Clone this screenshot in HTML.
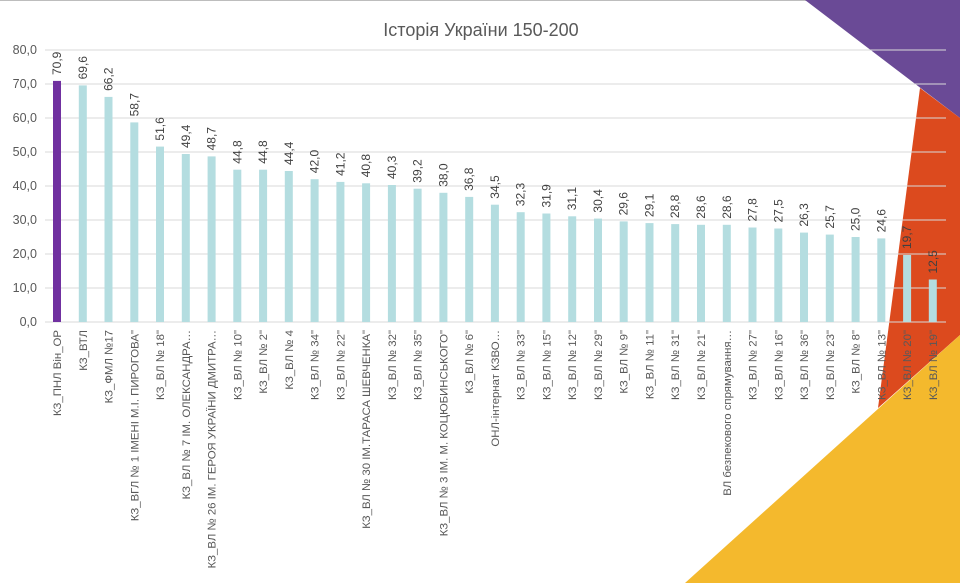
<!DOCTYPE html>
<html><head><meta charset="utf-8"><style>
html,body{margin:0;padding:0;background:#fff;}
svg{display:block;font-family:"Liberation Sans",sans-serif;}
.b{fill:#b4dde0}
.v{font-size:12px;fill:#404040}
.l{font-size:11.4px;fill:#595959;text-anchor:end}
</style></head><body>
<svg width="960" height="583" viewBox="0 0 960 583" xmlns="http://www.w3.org/2000/svg">
<rect width="960" height="583" fill="#fff"/>
<line x1="0" y1="0.5" x2="960" y2="0.5" stroke="#bdbdbd" stroke-width="1"/>
<polygon points="805,0 960,0 960,118" fill="#6a4a96"/>
<polygon points="920,88 960,118 960,335 878,408" fill="#dc4a1e"/>
<polygon points="685,583 960,335 960,583" fill="#f4b92d"/>
<text x="481" y="36" text-anchor="middle" font-size="18" fill="#595959">Історія України 150-200</text>
<g stroke="#d9d9d9" stroke-width="1">
<line x1="45" y1="50" x2="946" y2="50"/><line x1="45" y1="84" x2="946" y2="84"/>
<line x1="45" y1="118" x2="946" y2="118"/><line x1="45" y1="152" x2="946" y2="152"/>
<line x1="45" y1="186" x2="946" y2="186"/><line x1="45" y1="220" x2="946" y2="220"/>
<line x1="45" y1="254" x2="946" y2="254"/><line x1="45" y1="288" x2="946" y2="288"/>
<line x1="45" y1="322" x2="946" y2="322"/>
</g>
<g font-size="12.5" fill="#595959" text-anchor="end">
<text x="37" y="54">80,0</text><text x="37" y="88">70,0</text><text x="37" y="122">60,0</text>
<text x="37" y="156">50,0</text><text x="37" y="190">40,0</text><text x="37" y="224">30,0</text>
<text x="37" y="258">20,0</text><text x="37" y="292">10,0</text><text x="37" y="326">0,0</text>
</g>
<rect x="53" y="80.9" width="8" height="241.1" fill="#7030a0"/>
<rect class="b" x="78.8" y="85.4" width="8" height="236.6"/>
<rect class="b" x="104.5" y="96.9" width="8" height="225.1"/>
<rect class="b" x="130.3" y="122.4" width="8" height="199.6"/>
<rect class="b" x="156" y="146.6" width="8" height="175.4"/>
<rect class="b" x="181.8" y="154" width="8" height="168"/>
<rect class="b" x="207.6" y="156.4" width="8" height="165.6"/>
<rect class="b" x="233.3" y="169.7" width="8" height="152.3"/>
<rect class="b" x="259.1" y="169.7" width="8" height="152.3"/>
<rect class="b" x="284.8" y="171" width="8" height="151"/>
<rect class="b" x="310.6" y="179.2" width="8" height="142.8"/>
<rect class="b" x="336.4" y="181.9" width="8" height="140.1"/>
<rect class="b" x="362.1" y="183.3" width="8" height="138.7"/>
<rect class="b" x="387.9" y="185" width="8" height="137"/>
<rect class="b" x="413.6" y="188.7" width="8" height="133.3"/>
<rect class="b" x="439.4" y="192.8" width="8" height="129.2"/>
<rect class="b" x="465.2" y="196.9" width="8" height="125.1"/>
<rect class="b" x="490.9" y="204.7" width="8" height="117.3"/>
<rect class="b" x="516.7" y="212.2" width="8" height="109.8"/>
<rect class="b" x="542.4" y="213.5" width="8" height="108.5"/>
<rect class="b" x="568.2" y="216.3" width="8" height="105.7"/>
<rect class="b" x="594" y="218.6" width="8" height="103.4"/>
<rect class="b" x="619.7" y="221.4" width="8" height="100.6"/>
<rect class="b" x="645.5" y="223.1" width="8" height="98.9"/>
<rect class="b" x="671.2" y="224.1" width="8" height="97.9"/>
<rect class="b" x="697" y="224.8" width="8" height="97.2"/>
<rect class="b" x="722.8" y="224.8" width="8" height="97.2"/>
<rect class="b" x="748.5" y="227.5" width="8" height="94.5"/>
<rect class="b" x="774.3" y="228.5" width="8" height="93.5"/>
<rect class="b" x="800" y="232.6" width="8" height="89.4"/>
<rect class="b" x="825.8" y="234.6" width="8" height="87.4"/>
<rect class="b" x="851.6" y="237" width="8" height="85"/>
<rect class="b" x="877.3" y="238.4" width="8" height="83.6"/>
<rect class="b" x="903.1" y="255" width="8" height="67"/>
<rect class="b" x="928.8" y="279.5" width="8" height="42.5"/>
<text class="v" transform="translate(61,75) rotate(-90)">70,9</text>
<text class="v" transform="translate(86.8,79.4) rotate(-90)">69,6</text>
<text class="v" transform="translate(112.5,90.9) rotate(-90)">66,2</text>
<text class="v" transform="translate(138.3,116.4) rotate(-90)">58,7</text>
<text class="v" transform="translate(164,140.6) rotate(-90)">51,6</text>
<text class="v" transform="translate(189.8,148) rotate(-90)">49,4</text>
<text class="v" transform="translate(215.6,150.4) rotate(-90)">48,7</text>
<text class="v" transform="translate(241.3,163.7) rotate(-90)">44,8</text>
<text class="v" transform="translate(267.1,163.7) rotate(-90)">44,8</text>
<text class="v" transform="translate(292.8,165) rotate(-90)">44,4</text>
<text class="v" transform="translate(318.6,173.2) rotate(-90)">42,0</text>
<text class="v" transform="translate(344.4,175.9) rotate(-90)">41,2</text>
<text class="v" transform="translate(370.1,177.3) rotate(-90)">40,8</text>
<text class="v" transform="translate(395.9,179) rotate(-90)">40,3</text>
<text class="v" transform="translate(421.6,182.7) rotate(-90)">39,2</text>
<text class="v" transform="translate(447.4,186.8) rotate(-90)">38,0</text>
<text class="v" transform="translate(473.2,190.9) rotate(-90)">36,8</text>
<text class="v" transform="translate(498.9,198.7) rotate(-90)">34,5</text>
<text class="v" transform="translate(524.7,206.2) rotate(-90)">32,3</text>
<text class="v" transform="translate(550.4,207.5) rotate(-90)">31,9</text>
<text class="v" transform="translate(576.2,210.3) rotate(-90)">31,1</text>
<text class="v" transform="translate(602,212.6) rotate(-90)">30,4</text>
<text class="v" transform="translate(627.7,215.4) rotate(-90)">29,6</text>
<text class="v" transform="translate(653.5,217.1) rotate(-90)">29,1</text>
<text class="v" transform="translate(679.2,218.1) rotate(-90)">28,8</text>
<text class="v" transform="translate(705,218.8) rotate(-90)">28,6</text>
<text class="v" transform="translate(730.8,218.8) rotate(-90)">28,6</text>
<text class="v" transform="translate(756.5,221.5) rotate(-90)">27,8</text>
<text class="v" transform="translate(782.3,222.5) rotate(-90)">27,5</text>
<text class="v" transform="translate(808,226.6) rotate(-90)">26,3</text>
<text class="v" transform="translate(833.8,228.6) rotate(-90)">25,7</text>
<text class="v" transform="translate(859.6,231) rotate(-90)">25,0</text>
<text class="v" transform="translate(885.3,232.4) rotate(-90)">24,6</text>
<text class="v" transform="translate(911.1,249) rotate(-90)">19,7</text>
<text class="v" transform="translate(936.8,273.5) rotate(-90)">12,5</text>
<text class="l" transform="translate(61,330) rotate(-90)">КЗ_ПНЛ Він_ОР</text>
<text class="l" transform="translate(86.8,330) rotate(-90)">КЗ_ВТЛ</text>
<text class="l" transform="translate(112.5,330) rotate(-90)">КЗ_ФМЛ №17</text>
<text class="l" transform="translate(138.3,330) rotate(-90)">КЗ_ВГЛ № 1 ІМЕНІ М.І. ПИРОГОВА"</text>
<text class="l" transform="translate(164,330) rotate(-90)">КЗ_ВЛ № 18"</text>
<text class="l" transform="translate(189.8,330) rotate(-90)">КЗ_ВЛ № 7 ІМ. ОЛЕКСАНДРА…</text>
<text class="l" transform="translate(215.6,330) rotate(-90)">КЗ_ВЛ № 26 ІМ. ГЕРОЯ УКРАЇНИ ДМИТРА…</text>
<text class="l" transform="translate(241.3,330) rotate(-90)">КЗ_ВЛ № 10"</text>
<text class="l" transform="translate(267.1,330) rotate(-90)">КЗ_ВЛ № 2"</text>
<text class="l" transform="translate(292.8,330) rotate(-90)">КЗ_ВЛ № 4</text>
<text class="l" transform="translate(318.6,330) rotate(-90)">КЗ_ВЛ № 34"</text>
<text class="l" transform="translate(344.4,330) rotate(-90)">КЗ_ВЛ № 22"</text>
<text class="l" transform="translate(370.1,330) rotate(-90)">КЗ_ВЛ № 30 ІМ.ТАРАСА ШЕВЧЕНКА"</text>
<text class="l" transform="translate(395.9,330) rotate(-90)">КЗ_ВЛ № 32"</text>
<text class="l" transform="translate(421.6,330) rotate(-90)">КЗ_ВЛ № 35"</text>
<text class="l" transform="translate(447.4,330) rotate(-90)">КЗ_ВЛ № 3 ІМ. М. КОЦЮБИНСЬКОГО"</text>
<text class="l" transform="translate(473.2,330) rotate(-90)">КЗ_ВЛ № 6"</text>
<text class="l" transform="translate(498.9,330) rotate(-90)">ОНЛ-інтернат КЗВО…</text>
<text class="l" transform="translate(524.7,330) rotate(-90)">КЗ_ВЛ № 33"</text>
<text class="l" transform="translate(550.4,330) rotate(-90)">КЗ_ВЛ № 15"</text>
<text class="l" transform="translate(576.2,330) rotate(-90)">КЗ_ВЛ № 12"</text>
<text class="l" transform="translate(602,330) rotate(-90)">КЗ_ВЛ № 29"</text>
<text class="l" transform="translate(627.7,330) rotate(-90)">КЗ_ВЛ № 9"</text>
<text class="l" transform="translate(653.5,330) rotate(-90)">КЗ_ВЛ № 11"</text>
<text class="l" transform="translate(679.2,330) rotate(-90)">КЗ_ВЛ № 31"</text>
<text class="l" transform="translate(705,330) rotate(-90)">КЗ_ВЛ № 21"</text>
<text class="l" transform="translate(730.8,330) rotate(-90)">ВЛ безпекового спрямування…</text>
<text class="l" transform="translate(756.5,330) rotate(-90)">КЗ_ВЛ № 27"</text>
<text class="l" transform="translate(782.3,330) rotate(-90)">КЗ_ВЛ № 16"</text>
<text class="l" transform="translate(808,330) rotate(-90)">КЗ_ВЛ № 36"</text>
<text class="l" transform="translate(833.8,330) rotate(-90)">КЗ_ВЛ № 23"</text>
<text class="l" transform="translate(859.6,330) rotate(-90)">КЗ_ВЛ № 8"</text>
<text class="l" transform="translate(885.3,330) rotate(-90)">КЗ_ВЛ № 13"</text>
<text class="l" transform="translate(911.1,330) rotate(-90)">КЗ_ВЛ № 20"</text>
<text class="l" transform="translate(936.8,330) rotate(-90)">КЗ_ВЛ № 19"</text>
</svg>
</body></html>
